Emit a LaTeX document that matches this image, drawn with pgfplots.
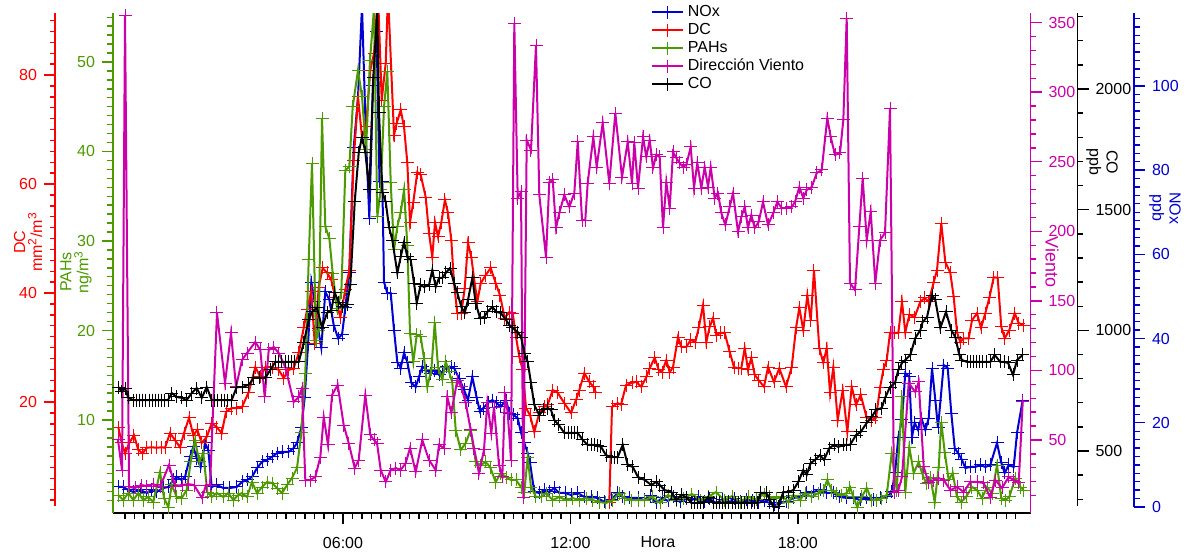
\documentclass[border=0pt]{standalone}
\usepackage{fontspec}
\setmainfont{Liberation Sans}
\usepackage{pgfplots}
\usepackage{pgfplotstable}
\pgfplotsset{compat=1.18}
\definecolor{cNOx}{RGB}{0,0,210}
\definecolor{cDC}{RGB}{255,0,0}
\definecolor{cPAH}{RGB}{76,153,0}
\definecolor{cVV}{RGB}{204,0,170}
\definecolor{cCO}{RGB}{0,0,0}

% time in hours, values in each series' units
\pgfplotstableread{
h v
0.071 4.75
0.203 4.75
0.335 4.04
0.467 3.56
0.644 4.04
0.821 3.33
0.953 4.04
1.084 3.56
1.259 4.51
1.391 4.75
1.522 6.41
1.612 7.13
1.744 6.41
1.831 7.13
1.963 11.9
2.050 14.3
2.140 11.6
2.245 9.5
2.359 15.2
2.446 13.5
2.536 4.75
2.668 5.23
2.842 4.51
3.018 4.51
3.195 4.75
3.335 5.94
3.467 6.41
3.599 7.13
3.731 9.26
3.863 10.7
3.995 11.2
4.127 11.9
4.259 12.8
4.391 13.1
4.567 13.1
4.699 14.0
4.786 15.2
4.900 18.8
4.989 25.9
5.077 38.5
5.164 53.4
5.253 48.7
5.340 42.5
5.427 37.8
5.533 51.1
5.639 49.2
5.755 43.2
5.868 40.1
5.974 40.9
6.061 47.3
6.166 55.8
6.282 85.3
6.396 97.4
6.501 119
6.607 87.2
6.694 68.6
6.790 100
6.884 113
6.963 77.2
7.037 77.2
7.082 53.4
7.169 50.8
7.259 50.8
7.346 42.0
7.433 34.4
7.522 33.0
7.610 36.6
7.697 34.4
7.802 29.5
7.918 28.5
8.005 30.9
8.092 33.3
8.208 32.5
8.314 31.8
8.401 32.5
8.533 31.4
8.620 32.1
8.736 33.3
8.858 33.3
8.929 33.0
9.061 30.6
9.193 27.8
9.298 25.4
9.412 30.9
9.528 25.9
9.615 22.6
9.702 23.5
9.826 24.7
9.939 25.4
10.055 24.7
10.161 23.8
10.301 25.4
10.388 22.3
10.493 21.9
10.609 21.1
10.697 17.6
10.784 15.2
10.873 12.8
10.934 10.5
11.047 3.56
11.179 3.33
11.311 4.04
11.443 3.56
11.575 4.51
11.707 3.33
11.858 3.33
12.016 2.85
12.193 3.33
12.367 2.38
12.544 2.38
12.720 2.14
12.894 1.19
13.071 1.66
13.248 3.33
13.380 2.38
13.554 2.14
13.784 2.14
13.942 1.66
14.100 2.61
14.259 0.95
14.417 2.14
14.575 1.43
14.733 2.38
14.892 1.19
15.050 1.90
15.208 1.66
15.367 2.38
15.525 1.19
15.683 1.90
15.842 0.95
16.000 1.66
16.158 1.19
16.317 1.90
16.475 1.19
16.633 1.66
16.792 1.43
16.950 0.95
17.108 1.43
17.266 0.95
17.398 0.48
17.530 0.95
17.707 1.19
17.881 2.14
18.058 2.38
18.235 3.33
18.409 3.56
18.586 4.04
18.763 3.33
18.937 3.33
19.113 2.38
19.290 2.14
19.465 2.14
19.641 1.66
19.818 2.14
19.992 1.66
20.169 2.14
20.346 2.38
20.478 3.56
20.565 8.08
20.652 16.6
20.749 20.7
20.836 31.8
20.942 30.9
21.013 16.6
21.084 20.0
21.172 18.3
21.259 21.1
21.365 18.3
21.454 21.1
21.541 33.0
21.628 25.4
21.699 18.8
21.849 33.7
21.955 33.0
22.050 22.3
22.140 14.0
22.227 12.8
22.332 11.2
22.419 9.26
22.551 9.50
22.683 9.50
22.815 9.98
22.947 9.50
23.079 9.98
23.256 15.2
23.369 10.5
23.459 8.08
23.564 9.98
23.697 9.50
23.784 17.6
23.934 25.4
}\noxdata

\pgfplotstableread{
h v
0.071 15.4
0.161 12.5
0.248 10.6
0.361 12.5
0.485 13.9
0.599 11.2
0.715 10.6
0.821 11.6
0.953 11.7
1.084 11.6
1.216 11.7
1.303 11.6
1.435 14.3
1.567 13.0
1.699 11.7
1.805 14.3
1.937 17.1
2.050 13.9
2.156 14.9
2.272 12.5
2.404 13.6
2.536 16.1
2.668 15.4
2.799 14.3
2.913 18.2
3.063 18.9
3.195 18.9
3.335 19.1
3.512 21.8
3.686 26.4
3.818 24.6
3.950 26.4
4.127 26.4
4.303 25.9
4.435 24.4
4.567 25.9
4.699 26.2
4.831 29.0
4.963 33.6
5.050 36.9
5.164 40.2
5.253 30.8
5.359 41.1
5.464 44.6
5.578 43.7
5.691 42.4
5.797 39.1
5.929 35.6
6.061 40.6
6.166 44.2
6.282 64.4
6.396 76.0
6.501 68.6
6.607 70.5
6.720 80.9
6.818 84.0
6.923 95.0
7.021 75.4
7.127 82.2
7.187 95.0
7.346 69.0
7.417 71.2
7.522 73.6
7.610 70.5
7.697 63.9
7.768 53.0
7.855 56.7
7.960 62.2
8.050 61.7
8.182 57.6
8.269 51.0
8.356 46.6
8.427 53.0
8.507 50.3
8.594 53.0
8.689 57.1
8.770 54.7
8.858 49.7
8.929 41.8
9.016 36.3
9.121 36.3
9.211 40.9
9.298 49.2
9.385 46.6
9.456 42.8
9.544 38.4
9.633 41.8
9.765 43.3
9.897 44.6
10.029 41.8
10.142 39.6
10.266 35.4
10.388 36.5
10.478 36.3
10.565 31.9
10.652 28.3
10.741 25.9
10.828 18.9
10.934 17.6
11.047 14.5
11.179 18.0
11.311 19.1
11.401 19.5
11.533 22.2
11.665 21.7
11.839 19.8
12.016 18.0
12.148 20.4
12.235 22.2
12.367 25.3
12.499 23.7
12.604 22.8
12.675 21.7
12.850 nan
13.026 1.5
13.098 19.1
13.248 19.8
13.335 19.5
13.467 23.1
13.625 23.5
13.731 23.7
13.871 22.8
14.003 24.6
14.092 26.2
14.224 28.1
14.330 25.9
14.417 25.5
14.530 27.7
14.620 25.5
14.707 26.4
14.839 31.9
14.926 30.1
15.058 30.1
15.174 31.4
15.296 31.0
15.385 33.6
15.499 37.8
15.586 31.0
15.675 33.8
15.763 35.4
15.850 32.3
15.966 32.7
16.071 32.7
16.203 29.2
16.317 26.4
16.422 26.2
16.509 26.2
16.599 29.9
16.686 25.9
16.773 28.1
16.863 25.0
16.968 24.0
17.108 22.8
17.214 26.4
17.372 23.7
17.512 26.2
17.689 22.8
17.839 26.4
17.953 33.6
18.040 37.3
18.145 33.2
18.251 39.6
18.341 35.0
18.427 44.2
18.567 29.9
18.673 27.2
18.763 29.9
18.850 21.7
18.937 26.4
19.053 16.7
19.185 22.2
19.306 14.5
19.422 22.8
19.536 19.5
19.660 21.3
19.818 17.1
19.950 16.7
20.063 17.1
20.169 22.6
20.256 25.9
20.346 27.7
20.433 32.7
20.538 32.7
20.652 32.7
20.749 38.4
20.836 32.8
20.942 36.0
21.084 35.6
21.232 38.4
21.348 39.1
21.454 38.4
21.586 42.0
21.673 44.2
21.786 52.8
21.892 45.7
22.024 43.7
22.113 39.3
22.201 32.8
22.288 31.0
22.377 31.7
22.509 31.7
22.596 35.0
22.728 36.3
22.834 33.6
22.947 36.3
23.053 39.1
23.169 42.9
23.274 42.8
23.369 33.8
23.459 31.7
23.580 33.2
23.723 36.3
23.829 34.5
23.960 34.1
}\dcdata

\pgfplotstableread{
h v
0.071 1.62
0.203 1.06
0.335 1.84
0.467 1.06
0.599 1.84
0.731 1.06
0.863 1.40
0.995 0.84
1.172 4.19
1.277 1.28
1.391 0.28
1.480 2.74
1.612 1.40
1.744 1.28
1.876 2.18
1.982 5.31
2.095 7.76
2.208 5.31
2.314 6.31
2.419 1.95
2.536 1.40
2.668 1.84
2.842 1.40
2.974 1.84
3.106 1.06
3.237 1.62
3.335 1.84
3.467 1.40
3.599 3.07
3.731 1.84
3.863 2.51
3.995 3.07
4.127 2.96
4.259 2.40
4.391 1.84
4.523 2.74
4.654 3.52
4.786 4.64
4.900 8.55
5.005 15.2
5.095 27.9
5.182 38.7
5.288 18.9
5.359 20.0
5.446 43.7
5.533 31.6
5.639 30.3
5.728 26.4
5.842 22.5
5.955 24.2
6.061 37.9
6.166 38.3
6.256 45.0
6.396 49.1
6.501 46.1
6.607 40.2
6.712 50.2
6.818 56.0
6.905 32.7
6.995 35.7
7.082 45.0
7.169 48.9
7.259 36.5
7.346 29.0
7.433 31.6
7.522 33.2
7.610 35.7
7.697 29.5
7.768 19.7
7.855 16.5
7.945 19.5
8.050 19.3
8.137 16.9
8.224 13.7
8.330 15.6
8.420 20.9
8.507 15.9
8.620 14.5
8.710 16.5
8.797 15.4
8.884 14.2
8.974 8.88
9.106 6.65
9.237 7.43
9.369 8.88
9.501 5.31
9.633 4.97
9.765 5.31
9.879 4.75
10.029 3.07
10.161 4.08
10.301 3.63
10.433 3.30
10.565 3.30
10.697 2.51
10.784 1.95
10.873 5.86
10.960 2.51
11.092 1.40
11.224 1.40
11.356 1.84
11.533 1.06
11.707 1.40
11.884 1.06
12.061 1.28
12.235 1.06
12.412 1.28
12.588 1.06
12.762 0.84
12.939 0.73
13.116 1.06
13.290 1.84
13.422 1.28
13.599 1.06
13.784 1.06
13.968 1.06
14.153 1.40
14.364 0.73
14.575 1.62
14.786 1.06
14.997 1.28
15.208 1.73
15.420 1.06
15.631 1.40
15.842 1.95
16.053 1.06
16.264 1.51
16.475 0.84
16.686 1.40
16.897 1.17
17.108 1.73
17.266 1.40
17.443 1.28
17.617 1.40
17.749 0.84
17.881 1.62
18.058 1.06
18.190 1.84
18.367 1.40
18.541 1.84
18.673 2.18
18.778 3.30
18.894 2.18
19.026 1.84
19.158 1.62
19.290 1.84
19.377 2.51
19.465 1.40
19.570 0.28
19.686 1.40
19.818 2.40
19.950 1.06
20.082 1.06
20.214 1.28
20.346 1.62
20.478 6.31
20.610 2.18
20.749 12.6
20.836 1.95
20.942 6.98
21.058 4.08
21.190 5.31
21.277 4.08
21.383 2.96
21.496 3.63
21.612 0.84
21.718 4.75
21.786 9.77
21.876 6.42
21.982 3.30
22.087 4.08
22.201 1.40
22.314 0.84
22.438 1.40
22.596 2.51
22.728 2.18
22.860 1.28
22.992 2.51
23.124 1.84
23.256 4.97
23.369 1.28
23.475 1.06
23.580 1.40
23.739 3.52
23.871 2.51
23.960 2.18
}\pahdata

\pgfplotstableread{
h v
0.063 50.0
0.169 28.4
0.248 355
0.354 16.2
0.512 15.5
0.670 17.6
0.828 16.9
0.987 18.3
1.172 16.2
1.409 32.0
1.567 16.9
1.752 17.6
1.910 18.3
2.069 17.6
2.280 8.3
2.385 17.6
2.491 17.6
2.675 141.3
2.887 90.9
3.045 126.9
3.177 88.1
3.335 107.5
3.467 112.5
3.686 120.4
3.818 114.7
3.934 80.9
4.040 114.7
4.172 116.8
4.303 112.5
4.478 102.4
4.699 77.3
4.831 80.9
4.918 87.3
5.005 21.2
5.137 21.2
5.269 23.4
5.401 37.7
5.491 66.5
5.604 46.4
5.710 82.3
5.860 89.5
6.018 60.7
6.150 47.8
6.309 29.8
6.414 35.6
6.588 82.3
6.720 53.6
6.818 50.0
6.897 47.8
6.995 28.4
7.127 19.8
7.259 28.4
7.391 29.8
7.522 28.4
7.654 33.4
7.768 44.2
7.918 27.0
8.092 50.0
8.269 35.6
8.446 28.4
8.533 46.4
8.665 44.2
8.752 80.9
8.857 69.4
9.016 93.1
9.121 88.1
9.237 76.6
9.369 57.2
9.456 44.2
9.588 26.2
9.720 42.8
9.807 76.6
9.913 55.0
9.984 73.7
10.116 32.0
10.203 23.4
10.274 83.8
10.346 69.4
10.433 35.6
10.520 349.7
10.609 223.9
10.697 228.3
10.757 9.0
10.847 265.6
10.960 258.4
11.092 333.9
11.179 226.1
11.356 181.5
11.443 235.4
11.533 236.9
11.620 202.4
11.707 213.2
11.839 226.1
11.971 217.5
12.103 227.5
12.193 264.2
12.306 208.1
12.393 208.1
12.456 234.7
12.604 267.8
12.694 246.2
12.852 277.9
13.026 234.7
13.185 285.0
13.361 239.0
13.512 264.2
13.625 234.7
13.686 263.5
13.784 231.1
13.916 267.8
14.003 253.4
14.092 265.6
14.179 245.5
14.266 254.9
14.356 253.4
14.443 202.4
14.530 235.4
14.620 216.7
14.707 257.0
14.794 252.7
14.884 249.1
14.971 246.2
15.058 247.7
15.174 260.6
15.261 231.1
15.348 249.1
15.454 231.1
15.543 246.2
15.631 231.8
15.702 246.2
15.807 223.9
15.894 227.5
15.982 213.2
16.087 204.6
16.203 217.5
16.290 227.5
16.422 199.5
16.509 210.3
16.599 217.5
16.686 202.4
16.773 211.7
16.863 202.4
16.968 206.7
17.082 221.1
17.214 204.6
17.354 213.2
17.459 221.1
17.575 216.7
17.707 216.7
17.839 217.5
17.926 221.1
18.040 231.8
18.145 223.9
18.235 229.7
18.367 231.8
18.499 241.9
18.631 244.1
18.778 281.4
18.868 267.8
18.982 254.9
19.113 256.3
19.201 280.0
19.290 353.3
19.377 162.8
19.509 157.8
19.623 203.1
19.712 238.3
19.818 193.7
19.924 213.9
20.045 162.8
20.169 193.7
20.301 198.8
20.433 288.6
20.538 12.6
20.652 14.0
20.749 23.4
20.926 90.9
21.100 84.5
21.190 91.7
21.322 30.6
21.454 19.1
21.586 21.2
21.718 22.6
21.850 21.2
22.024 14.0
22.201 16.2
22.377 12.6
22.551 19.8
22.728 19.8
22.905 19.1
23.079 8.3
23.211 21.2
23.388 15.5
23.564 23.4
23.697 21.2
23.829 19.1
23.934 77.3
}\vvdata

\pgfplotstableread{
h v
0.071 765
0.161 745
0.248 761
0.335 720
0.467 711
0.550 711
0.633 711
0.717 711
0.800 711
0.883 711
0.967 711
1.050 711
1.133 711
1.217 711
1.300 711
1.383 711
1.480 740
1.612 724
1.744 720
1.876 711
2.008 740
2.140 761
2.272 720
2.404 765
2.536 711
2.620 711
2.700 711
2.790 711
2.870 711
2.950 711
3.063 711
3.195 765
3.335 765
3.512 774
3.644 803
3.784 803
3.950 803
4.082 836
4.214 869
4.300 869
4.380 869
4.470 869
4.550 869
4.630 869
4.720 869
4.831 869
4.963 948
5.095 1043
5.182 1076
5.314 1093
5.446 1010
5.578 1072
5.691 1084
5.781 1155
5.886 1117
5.992 1097
6.106 1105
6.193 1188
6.309 1532
6.414 1735
6.501 1801
6.588 1739
6.694 1582
6.799 2046
6.905 2330
6.950 1901
7.037 1573
7.127 1532
7.214 1428
7.301 1374
7.433 1238
7.522 1304
7.610 1366
7.697 1304
7.786 1292
7.873 1196
7.945 1113
8.050 1188
8.137 1180
8.269 1188
8.356 1250
8.446 1180
8.533 1217
8.620 1217
8.710 1238
8.823 1258
8.929 1196
9.016 1155
9.121 1097
9.211 1072
9.298 1126
9.412 1217
9.501 1113
9.615 1051
9.721 1055
9.807 1076
9.939 1097
10.055 1076
10.161 1072
10.301 1043
10.388 1022
10.478 1010
10.609 993
10.697 972
10.784 906
10.873 869
10.960 782
11.047 691
11.179 649
11.285 670
11.401 678
11.488 670
11.575 628
11.691 608
11.839 575
11.937 575
12.016 575
12.108 575
12.193 575
12.325 546
12.456 525
12.544 525
12.630 525
12.720 521
12.807 517
12.939 483
13.071 475
13.158 475
13.248 475
13.380 525
13.512 442
13.644 434
13.784 392
13.960 380
14.135 359
14.266 372
14.356 359
14.488 338
14.662 330
14.794 297
14.926 318
15.058 309
15.190 285
15.270 285
15.350 285
15.440 285
15.520 285
15.631 309
15.763 285
15.850 285
15.930 285
16.020 285
16.100 285
16.180 285
16.270 285
16.350 285
16.430 285
16.520 285
16.600 285
16.680 285
16.770 285
16.850 285
16.930 285
17.021 326
17.169 326
17.266 297
17.354 268
17.485 268
17.617 330
17.749 330
17.881 338
18.013 372
18.145 421
18.235 401
18.340 450
18.454 463
18.586 483
18.691 463
18.831 512
18.955 525
19.069 517
19.201 525
19.290 525
19.377 525
19.536 566
19.660 579
19.818 616
19.950 641
20.063 670
20.214 678
20.301 720
20.433 765
20.565 782
20.652 836
20.749 865
20.836 877
20.968 898
21.100 968
21.232 1001
21.296 1035
21.409 1055
21.541 1146
21.628 1126
21.760 1010
21.910 1076
22.050 1001
22.156 972
22.261 898
22.332 877
22.465 869
22.550 869
22.630 869
22.720 869
22.800 869
22.880 869
22.970 869
23.079 869
23.195 898
23.343 869
23.441 869
23.547 865
23.679 815
23.784 877
23.934 898
}\codata

\pgfplotsset{
  every axis/.append style={font=\fontsize{8}{9.6}\selectfont},
  datax/.style={scale only axis, width=458.75pt, height=250pt,
    at={(56.5pt,20.5pt)}, anchor=south west, xmin=-0.069, xmax=24.14},
  hidden/.style={datax, hide axis},
  ser/.style={line width=1pt, mark=+, mark size=3.25pt,
    mark options={line width=0.5pt, solid}},
  ticky/.style={tick align=outside, major tick length=5.5pt, minor tick length=2.75pt,
    /pgf/number format/assume math mode=true,
    /pgf/number format/set thousands separator={},
    y axis line style={#1, line width=0.8pt},
    every y tick/.append style={#1, line width=0.7pt},
    yticklabel style={#1}},
  scaleax/.style={scale only axis, width=1pt, xmin=0, xmax=1, hide x axis},
}

\begin{document}
\begin{tikzpicture}
\path[use as bounding box] (0pt,0pt) rectangle (594pt,277pt);

% NOx data
\begin{axis}[hidden, ymin=-1.43, ymax=117.3]
\addplot[cNOx, ser] table[x=h,y=v] {\noxdata};
\end{axis}

% DC data
\begin{axis}[hidden, ymin=-0.37, ymax=91.4, unbounded coords=jump]
\addplot[cDC, ser] table[x=h,y=v] {\dcdata};
\end{axis}

% main axis: time + PAHs
\begin{axis}[datax, ymin=-0.39, ymax=55.47,
  axis x line*=bottom, axis y line*=left,
  ticky=cPAH,
  x axis line style={black, line width=0.8pt},
  every x tick/.append style={black, line width=0.7pt},
  xtick={6,12,18}, xticklabels={06:00,12:00,18:00},
  minor xtick={0.25,0.5,...,23.75},
  ytick={10,20,30,40,50}, minor ytick={1,2,...,55},
  xticklabel style={yshift=-3pt},
  legend style={at={(axis description cs:0.5864,1.02)}, anchor=north west,
    draw=none, fill=none, inner sep=0pt, row sep=0pt,
    nodes={inner xsep=1.75pt, inner ysep=0pt, text height=6.3pt, text depth=2.7pt},
    font=\fontsize{8}{9.6}\selectfont},
  legend cell align=left,
  legend image code/.code={\draw[mark repeat=2,mark phase=2,#1] plot coordinates {(0pt,0pt) (7.75pt,0pt) (15.5pt,0pt)};},
]
\addlegendimage{cNOx, ser}
\addlegendentry{NOx}
\addlegendimage{cDC, ser}
\addlegendentry{DC}
\addlegendimage{cPAH, ser}
\addlegendentry{PAHs}
\addlegendimage{cVV, ser}
\addlegendentry{Dirección Viento}
\addlegendimage{cCO, ser}
\addlegendentry{CO}
\addplot[cPAH, ser, forget plot] table[x=h,y=v] {\pahdata};
\end{axis}

% Viento data + right axis
\begin{axis}[datax, ymin=-2.5, ymax=356.9, axis y line*=right, hide x axis,
  ticky=cVV, ytick={50,100,...,350}, minor ytick={10,20,...,350}]
\addplot[cVV, ser] table[x=h,y=v] {\vvdata};
\end{axis}

% CO data
\begin{axis}[hidden, ymin=243, ymax=2315]
\addplot[cCO, ser] table[x=h,y=v] {\codata};
\end{axis}

% offset scales
\begin{axis}[scaleax, at={(27.5pt,24pt)}, anchor=south west, height=246.5pt,
  ymin=0.917, ymax=91.38, axis y line*=left, ticky=cDC,
  ytick={20,40,60,80}, minor ytick={2,4,...,90}]
\end{axis}
\begin{axis}[scaleax, at={(538.75pt,24pt)}, anchor=south east, height=246.5pt,
  ymin=272, ymax=2315, axis y line*=right, ticky=black,
  ytick={500,1000,1500,2000}, minor ytick={300,400,...,2300}]
\end{axis}
\begin{axis}[scaleax, at={(567pt,23.5pt)}, anchor=south east, height=247pt,
  ymin=0, ymax=117.3, axis y line*=right, ticky=cNOx,
  ytick={0,20,...,100}, minor ytick={2,4,...,116}]
\end{axis}

\begin{scope}[font=\fontsize{8}{8.5}\selectfont]
\node[rotate=90, cDC, align=center] at (14pt,156pt) {DC\\mm\textsuperscript{2}/m\textsuperscript{3}};
\node[rotate=90, cPAH, align=center] at (38pt,141pt) {PAHs\\ng/m\textsuperscript{3}};
\node[rotate=-90, cVV, font=\fontsize{9}{10}\selectfont] at (526pt,146pt) {Viento};
\node[rotate=-90, black, align=center] at (551pt,196pt) {CO\\ppb};
\node[rotate=-90, cNOx, align=center] at (582.5pt,173pt) {NOx\\ppb};
\node[anchor=base] at (329pt,3.5pt) {Hora};
\end{scope}
\end{tikzpicture}
\end{document}
